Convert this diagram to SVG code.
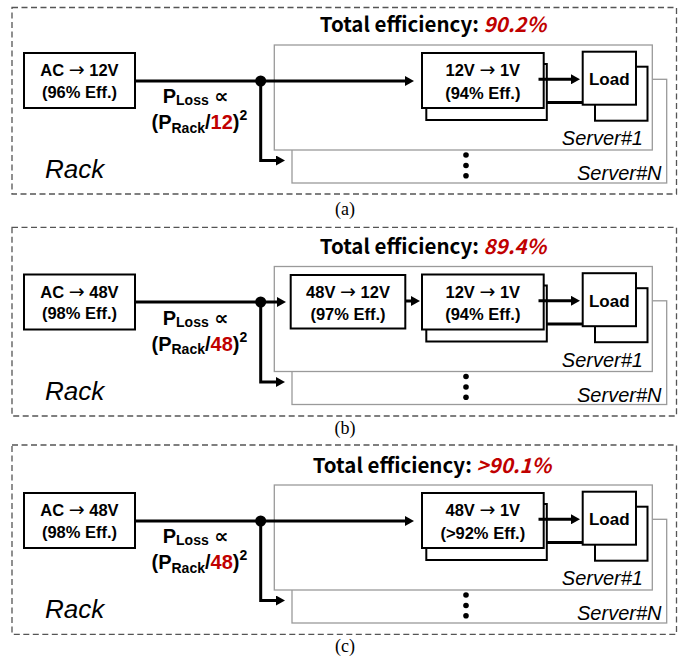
<svg xmlns="http://www.w3.org/2000/svg" width="684" height="660" viewBox="0 0 684 660">
<style>
.bg{fill:#fff}
.dash{fill:none;stroke:#555;stroke-width:1.3;stroke-dasharray:6 3.5}
.srv{fill:#fff;stroke:#9a9a9a;stroke-width:1.3}
.box{fill:#fff;stroke:#000;stroke-width:2}
.wire{fill:none;stroke:#000;stroke-width:3}
.t{font-family:"Liberation Sans",Arial,sans-serif;font-weight:bold;font-size:16.5px;fill:#000;text-anchor:middle}
.ar{font-family:"DejaVu Sans",sans-serif;font-weight:normal;font-size:19px}
.load{font-family:"Liberation Sans",Arial,sans-serif;font-weight:bold;font-size:17px;fill:#000;text-anchor:middle}
.title{font-family:"Noto Sans CJK KR","Noto Sans",sans-serif;font-weight:bold;font-size:20.5px;fill:#000;text-anchor:middle}
.red{fill:#c00000;font-style:italic}
.eq{font-family:"Liberation Sans","DejaVu Sans",sans-serif;font-weight:bold;font-size:20px;fill:#000}
.sub{font-size:14px}
.rack{font-family:"Liberation Sans",Arial,sans-serif;font-style:italic;font-size:26px;fill:#000}
.sv{font-family:"Liberation Sans",Arial,sans-serif;font-style:italic;font-size:20px;fill:#000;text-anchor:end}
.cap{font-family:"Liberation Serif","Times New Roman",serif;font-size:18px;fill:#000;text-anchor:middle}
</style>
<defs>
<marker id="ah" markerUnits="userSpaceOnUse" markerWidth="10" markerHeight="10" refX="2" refY="5" orient="auto">
<path d="M0,0 L9,5 L0,10 z" fill="#000"/>
</marker>
</defs>
<rect class="bg" x="0" y="0" width="684" height="660"/>

<!-- Panel (a) -->
<rect id="a-rack-frame" class="dash" x="12" y="7.5" width="664.5" height="186.5"/>
<g id="panel-a">
  <text class="title" x="433" y="32">Total efficiency: <tspan class="red">90.2%</tspan></text>
  <g id="a-serverN"><rect class="srv" x="292" y="79.3" width="374.7" height="103.7"/><text class="sv" x="661.5" y="180">Server#N</text></g>
  <g id="a-server1"><rect class="srv" x="274.3" y="45" width="378" height="105"/><text class="sv" x="643" y="145">Server#1</text></g>
  <g id="a-dots"><circle cx="466" cy="155" r="2.8"/><circle cx="466" cy="165.5" r="2.8"/><circle cx="466" cy="175.7" r="2.8"/></g>
  <g id="a-ac"><rect class="box" x="24" y="53" width="111" height="55"/><text class="t" x="79.5" y="76">AC <tspan class="ar">→</tspan> 12V</text><text class="t" x="79.5" y="97.5">(96% Eff.)</text></g>
  <g id="a-pol"><rect class="box" x="426.3" y="64" width="120.5" height="56"/><rect class="box" x="422" y="53" width="121.7" height="55"/><text class="t" x="482.8" y="76">12V <tspan class="ar">→</tspan> 1V</text><text class="t" x="482.8" y="98.5">(94% Eff.)</text></g>
  <g id="a-load"><rect class="box" x="595" y="66.7" width="52.5" height="54"/><rect class="box" x="582.7" y="51.7" width="53.3" height="53"/><text class="load" x="609.3" y="85">Load</text></g>
  <text class="eq" x="162.7" y="103">P<tspan class="sub" dy="2">Loss</tspan><tspan dy="-2"> ∝</tspan></text>
  <text class="eq" x="151.5" y="129.3">(P<tspan class="sub" dy="3.4">Rack</tspan><tspan dy="-3.4">/</tspan><tspan fill="#c00000">12</tspan>)<tspan class="sub" font-size="13" dy="-9">2</tspan></text>
  <text class="rack" x="45" y="178">Rack</text>
  <g id="a-connectors">
    <path class="wire" d="M135,81 H407" marker-end="url(#ah)"/>
    <path class="wire" d="M260.7,81 V160.5 H278" marker-end="url(#ah)"/>
    <path class="wire" d="M538.5,79.3 H573" marker-end="url(#ah)"/>
    <path class="wire" d="M547,102.5 H583"/>
    <circle cx="260.7" cy="81" r="5.5"/>
  </g>
</g>
<text class="cap" x="345" y="215">(a)</text>

<!-- Panel (b) -->
<rect id="b-rack-frame" class="dash" x="12" y="227.3" width="664.5" height="188.7"/>
<g id="panel-b" transform="translate(0,221.5)">
  <text class="title" x="433" y="32">Total efficiency: <tspan class="red">89.4%</tspan></text>
  <g id="b-serverN"><rect class="srv" x="292" y="79.3" width="374.7" height="103.7"/><text class="sv" x="661.5" y="180">Server#N</text></g>
  <g id="b-server1"><rect class="srv" x="274.3" y="45" width="378" height="105"/><text class="sv" x="643" y="145">Server#1</text></g>
  <g id="b-dots"><circle cx="466" cy="155" r="2.8"/><circle cx="466" cy="165.5" r="2.8"/><circle cx="466" cy="175.7" r="2.8"/></g>
  <g id="b-ac"><rect class="box" x="24" y="53" width="111" height="55"/><text class="t" x="79.5" y="76">AC <tspan class="ar">→</tspan> 48V</text><text class="t" x="79.5" y="97.5">(98% Eff.)</text></g>
  <g id="b-ibc"><rect class="box" x="290.7" y="53.5" width="114.6" height="53.5"/><text class="t" x="348" y="76">48V <tspan class="ar">→</tspan> 12V</text><text class="t" x="348" y="98.5">(97% Eff.)</text></g>
  <g id="b-pol"><rect class="box" x="426.3" y="64" width="120.5" height="56"/><rect class="box" x="422" y="53" width="121.7" height="55"/><text class="t" x="482.8" y="76">12V <tspan class="ar">→</tspan> 1V</text><text class="t" x="482.8" y="98.5">(94% Eff.)</text></g>
  <g id="b-load"><rect class="box" x="595" y="66.7" width="52.5" height="54"/><rect class="box" x="582.7" y="51.7" width="53.3" height="53"/><text class="load" x="609.3" y="85">Load</text></g>
  <text class="eq" x="162.7" y="103">P<tspan class="sub" dy="2">Loss</tspan><tspan dy="-2"> ∝</tspan></text>
  <text class="eq" x="151.5" y="129.3">(P<tspan class="sub" dy="3.4">Rack</tspan><tspan dy="-3.4">/</tspan><tspan fill="#c00000">48</tspan>)<tspan class="sub" font-size="13" dy="-9">2</tspan></text>
  <text class="rack" x="45" y="178">Rack</text>
  <g id="b-connectors">
    <path class="wire" d="M135,80.5 H279" marker-end="url(#ah)"/>
    <path class="wire" d="M405,79.5 H413" marker-end="url(#ah)"/>
    <path class="wire" d="M260.7,80.5 V160.5 H278" marker-end="url(#ah)"/>
    <path class="wire" d="M538.5,79.3 H573" marker-end="url(#ah)"/>
    <path class="wire" d="M547,102.5 H583"/>
    <circle cx="260.7" cy="80.5" r="5.5"/>
  </g>
</g>
<text class="cap" x="345" y="434">(b)</text>

<!-- Panel (c) -->
<rect id="c-rack-frame" class="dash" x="12" y="445" width="664.5" height="189.3"/>
<g id="panel-c" transform="translate(0,440)">
  <text class="title" x="432" y="33">Total efficiency: <tspan class="red">&gt;90.1%</tspan></text>
  <g id="c-serverN"><rect class="srv" x="292" y="79.3" width="374.7" height="103.7"/><text class="sv" x="661.5" y="180">Server#N</text></g>
  <g id="c-server1"><rect class="srv" x="274.3" y="45" width="378" height="105"/><text class="sv" x="643" y="145">Server#1</text></g>
  <g id="c-dots"><circle cx="466" cy="155" r="2.8"/><circle cx="466" cy="165.5" r="2.8"/><circle cx="466" cy="175.7" r="2.8"/></g>
  <g id="c-ac"><rect class="box" x="24" y="53" width="111" height="55"/><text class="t" x="79.5" y="76">AC <tspan class="ar">→</tspan> 48V</text><text class="t" x="79.5" y="97.5">(98% Eff.)</text></g>
  <g id="c-pol"><rect class="box" x="426.3" y="64" width="120.5" height="56"/><rect class="box" x="422" y="53" width="121.7" height="55"/><text class="t" x="482.8" y="76">48V <tspan class="ar">→</tspan> 1V</text><text class="t" x="482.8" y="98.5">(&gt;92% Eff.)</text></g>
  <g id="c-load"><rect class="box" x="595" y="66.7" width="52.5" height="54"/><rect class="box" x="582.7" y="51.7" width="53.3" height="53"/><text class="load" x="609.3" y="85">Load</text></g>
  <text class="eq" x="162.7" y="103">P<tspan class="sub" dy="2">Loss</tspan><tspan dy="-2"> ∝</tspan></text>
  <text class="eq" x="151.5" y="129.3">(P<tspan class="sub" dy="3.4">Rack</tspan><tspan dy="-3.4">/</tspan><tspan fill="#c00000">48</tspan>)<tspan class="sub" font-size="13" dy="-9">2</tspan></text>
  <text class="rack" x="45" y="178">Rack</text>
  <g id="c-connectors">
    <path class="wire" d="M135,81 H407" marker-end="url(#ah)"/>
    <path class="wire" d="M260.7,81 V160.5 H278" marker-end="url(#ah)"/>
    <path class="wire" d="M538.5,79.3 H573" marker-end="url(#ah)"/>
    <path class="wire" d="M547,102.5 H583"/>
    <circle cx="260.7" cy="81" r="5.5"/>
  </g>
</g>
<text class="cap" x="345" y="652">(c)</text>
</svg>
